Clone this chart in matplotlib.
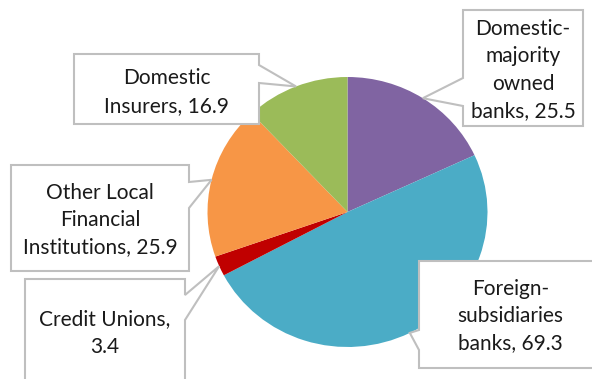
import numpy as np
import matplotlib
matplotlib.use("Agg")
import matplotlib.pyplot as plt
from matplotlib.patches import Polygon

# Holdings by institution type
categories = [
    "Domestic-\nmajority\nowned\nbanks",
    "Foreign-\nsubsidiaries\nbanks",
    "Credit Unions,\n",
    "Other Local\nFinancial\nInstitutions",
    "Domestic\nInsurers",
]
values = [25.5, 69.3, 3.4, 25.9, 16.9]
colors = ["#8064A2", "#4BACC6", "#C00000", "#F79646", "#9BBB59"]

W, H = 592, 379
fig = plt.figure(figsize=(W / 100, H / 100), dpi=100)
fig.patch.set_facecolor("white")

# Pie axes (slightly wider than tall)
cx, cy, rx, ry = 347.5, 212.0, 140.0, 135.0
pax = fig.add_axes([(cx - rx) / W, (H - cy - ry) / H, 2 * rx / W, 2 * ry / H])
wedges, _ = pax.pie(values, colors=colors, startangle=90, counterclock=False,
                    radius=1.0, wedgeprops=dict(linewidth=0))
pax.set_xlim(-1, 1)
pax.set_ylim(-1, 1)
pax.set_aspect("auto")
pax.axis("off")

# Overlay axes in pixel units for the callouts
ov = fig.add_axes([0, 0, 1, 1], zorder=5)
ov.set_xlim(0, W)
ov.set_ylim(H, 0)
ov.axis("off")
ov.patch.set_alpha(0)

fig.canvas.draw()
to_px = pax.transData + ov.transData.inverted()

# Callout layout: box (x0, y0, x1, y1), side of pointer, pointer base (a, b)
layout = [
    dict(box=(463, 10, 583, 126), side="left", base=(78, 106), text_y=70),
    dict(box=(419, 261, 602, 368), side="left", base=(330, 350), text_y=316),
    dict(box=(25, 279, 185, 392), side="right", base=(295, 320), text_y=333),
    dict(box=(11, 165, 189, 271), side="right", base=(182, 208), text_y=220),
    dict(box=(74, 54, 259, 124), side="right", base=(65, 83), text_y=92),
]

total = sum(values)
start = 90.0
edge = "#BFBFBF"
for cat, val, lay in zip(categories, values, layout):
    sweep = 360.0 * val / total
    mid = np.deg2rad(start - sweep / 2)
    start -= sweep
    tx, ty = to_px.transform((np.cos(mid), np.sin(mid)))
    x0, y0, x1, y1 = lay["box"]
    a, b = lay["base"]
    if lay["side"] == "right":
        pts = [(x0, y0), (x1, y0), (x1, a), (tx, ty), (x1, b), (x1, y1), (x0, y1)]
    else:
        pts = [(x0, y0), (x1, y0), (x1, y1), (x0, y1), (x0, b), (tx, ty), (x0, a)]
    ov.add_patch(Polygon(pts, closed=True, facecolor="white", edgecolor=edge,
                         linewidth=1.5, joinstyle="miter"))
    label = cat.rstrip("\n")
    if cat.endswith(",\n"):
        label = f"{label}\n{val:g}"
    else:
        label = f"{label}, {val:g}"
    ov.text((x0 + x1) / 2, lay["text_y"], label, ha="center", va="center",
            fontsize=15, family="Lato", color="#1a1a1a", linespacing=1.45)

fig.savefig("out.png", dpi=100, facecolor="white")
